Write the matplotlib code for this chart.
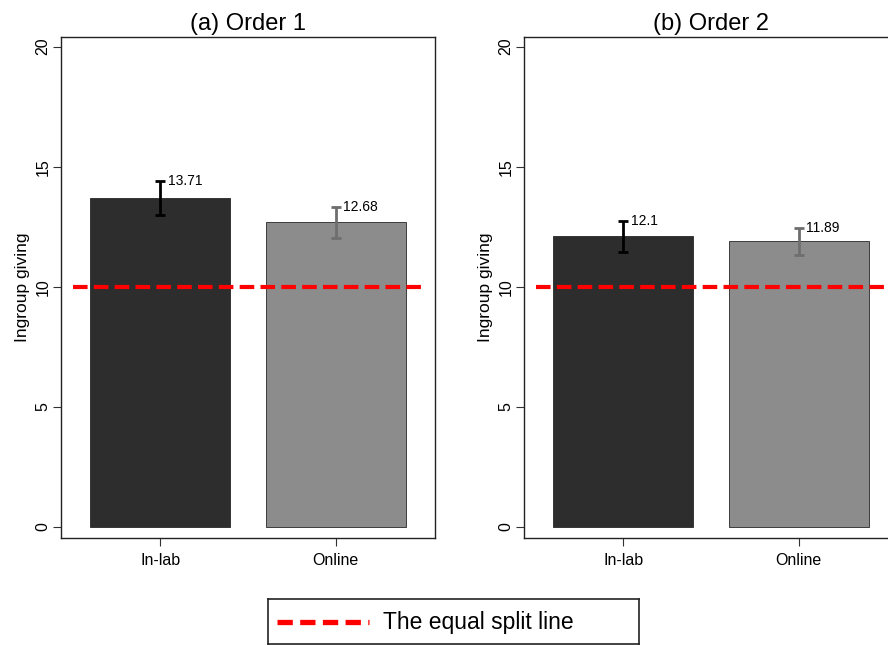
import matplotlib
matplotlib.use("Agg")
import matplotlib.pyplot as plt

plt.rcParams['font.family'] = ['Liberation Sans', 'DejaVu Sans']

# data
groups = ["In-lab", "Online"]
titles = ["(a) Order 1", "(b) Order 2"]
means = [[13.71, 12.68], [12.1, 11.89]]
ci_low = [[13.0, 12.02], [11.44, 11.33]]
ci_high = [[14.42, 13.32], [12.75, 12.43]]
equal_split = 10
yticks = [0, 5, 10, 15, 20]

bar_colors = ["#2d2d2d", "#8c8c8c"]
err_colors = ["#000000", "#6e6e6e"]
red = "#ff0000"

fig = plt.figure(figsize=(8.88, 6.45), dpi=100)
W, H = 888, 645


def px_box(l, t, r, b):
    return [l / W, 1 - b / H, (r - l) / W, (b - t) / H]


# axes boxes in pixels; second panel runs off the right edge like the original
boxes = [(61, 37, 435, 538), (524, 37, 898, 538)]

for k, box in enumerate(boxes):
    ax = fig.add_axes(px_box(*box))
    x = list(range(len(groups)))
    ax.bar(x, means[k], width=0.8, color=bar_colors, edgecolor="#262626",
           linewidth=0.6, zorder=2)
    for i in x:
        lo, hi = ci_low[k][i], ci_high[k][i]
        ax.errorbar(i, means[k][i], yerr=[[means[k][i] - lo], [hi - means[k][i]]],
                    fmt="none", ecolor=err_colors[i], elinewidth=2, capsize=3.5,
                    capthick=2, zorder=3)
        ax.annotate(f"{means[k][i]:g}", (i, hi), xytext=(5.5, 0),
                    textcoords="offset points", fontsize=10, va="center",
                    ha="left")
    ax.hlines(equal_split, -0.5, 1.5, colors=red, linestyles=(0, (3.5, 1.5)),
              linewidth=3, zorder=4)
    ax.set_xlim(-0.566, 1.566)
    ax.set_ylim(-0.46, 20.4)
    ax.set_xticks(x)
    ax.set_xticklabels(groups, fontsize=11.5)
    ax.set_yticks(yticks)
    ax.set_yticklabels([str(v) for v in yticks], rotation=90, va="center",
                       fontsize=11.5)
    ax.tick_params(axis="both", length=6, width=0.8, color="#333333")
    ax.tick_params(axis="y", pad=1.5)
    ax.tick_params(axis="x", pad=5)
    ax.set_ylabel("Ingroup giving", fontsize=12.5, labelpad=4)
    ax.set_title(titles[k], fontsize=17, pad=5)
    for s in ax.spines.values():
        s.set_linewidth(1.0)
        s.set_color("#222222")

# legend box drawn as a small axes (Stata-style wide key box)
lg = fig.add_axes(px_box(268, 599, 639, 644))
lg.set_xlim(0, 371)
lg.set_ylim(0, 45)
lg.set_xticks([])
lg.set_yticks([])
for s in lg.spines.values():
    s.set_linewidth(1.2)
    s.set_color("#222222")
lg.plot([9, 101], [22.5, 22.5], color=red, linestyle=(0, (2.9, 1.4)),
        linewidth=3.8, solid_capstyle="butt")
lg.text(115, 22, "The equal split line", fontsize=16.5, va="center", ha="left")

fig.savefig("out.png", dpi=100)
